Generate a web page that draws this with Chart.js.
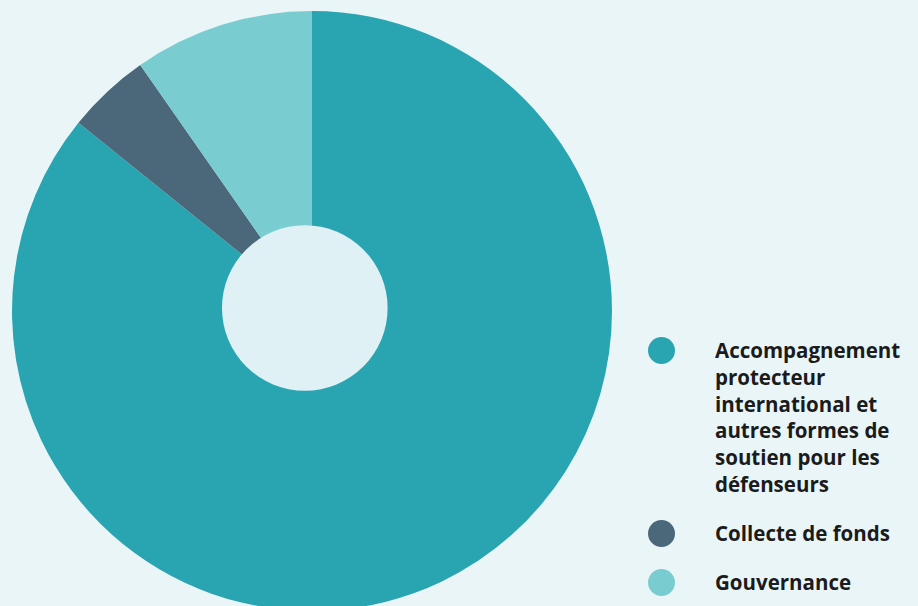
<!DOCTYPE html>
<html lang="fr">
<head>
<meta charset="utf-8">
<title>Répartition des dépenses</title>
<script src="https://cdn.jsdelivr.net/npm/chart.js@4.4.1/dist/chart.umd.min.js"></script>
<style>
    html, body {
        margin: 0;
        padding: 0;
        width: 918px;
        height: 606px;
        overflow: hidden;
        background: #e9f5f6;
        font-family: "Open Sans", Lato, sans-serif;
    }
    #chart-box {
        position: absolute;
        left: 12px;
        top: 11px;
        width: 600px;
        height: 600px;
    }
    #legende {
        position: absolute;
        left: 648px;
        top: 337px;
        margin: 0;
        padding: 0;
        list-style: none;
    }
    #legende li {
        position: relative;
        padding-left: 67px;
        margin-bottom: 22px;
        font-size: 20.5px;
        font-weight: 700;
        line-height: 26.8px;
        color: #1b1b1b;
        white-space: nowrap;
        font-variant-ligatures: none;
    }
    #legende .pastille {
        position: absolute;
        left: 0;
        top: 0;
        width: 27px;
        height: 27px;
        border-radius: 50%;
    }
</style>
</head>
<body>
<div id="chart-box"><canvas id="chartRepartition"></canvas></div>
<ul id="legende"></ul>

<script>
// Catégories (une ligne par entrée du tableau, comme dans l'original)
const categories = [
    ['Accompagnement', 'protecteur', 'international et', 'autres formes de', 'soutien pour les', 'défenseurs'],
    ['Collecte de fonds'],
    ['Gouvernance']
];

// Part de chaque poste (%)
const valeurs = [85.8, 4.5, 9.7];

const couleurs = ['#29a5b2', '#4a6879', '#79cdd0'];
const couleurTrou = '#e0f1f5';

let chartRepartition = null;

// Trou central dessiné à part (légèrement décalé, comme sur l'original)
const pluginTrou = {
    id: 'trouCentral',
    afterDatasetsDraw(chart) {
        const arc = chart.getDatasetMeta(0).data[0];
        if (!arc) return;
        const r = arc.outerRadius;
        const ctx = chart.ctx;
        ctx.save();
        ctx.beginPath();
        ctx.arc(arc.x - r * 0.024, arc.y - r * 0.01, r * 0.276, 0, Math.PI * 2);
        ctx.fillStyle = couleurTrou;
        ctx.fill();
        ctx.restore();
    }
};

function createChart() {
    const ctx = document.getElementById('chartRepartition').getContext('2d');
    if (chartRepartition) {
        chartRepartition.destroy();
    }
    chartRepartition = new Chart(ctx, {
        type: 'pie',
        data: {
            labels: categories.map(c => c.join(' ')),
            datasets: [{
                data: valeurs,
                backgroundColor: couleurs,
                borderWidth: 0
            }]
        },
        options: {
            responsive: true,
            maintainAspectRatio: false,
            animation: false,
            layout: { padding: 0 },
            plugins: {
                legend: { display: false },
                tooltip: { enabled: false }
            }
        },
        plugins: [pluginTrou]
    });
}

function remplirLegende() {
    const ul = document.getElementById('legende');
    ul.innerHTML = '';
    categories.forEach((lignes, i) => {
        const li = document.createElement('li');
        const pastille = document.createElement('span');
        pastille.className = 'pastille';
        pastille.style.background = couleurs[i];
        li.appendChild(pastille);
        lignes.forEach((ligne, j) => {
            if (j > 0) li.appendChild(document.createElement('br'));
            li.appendChild(document.createTextNode(ligne));
        });
        ul.appendChild(li);
    });
}

createChart();
remplirLegende();
</script>
</body>
</html>
